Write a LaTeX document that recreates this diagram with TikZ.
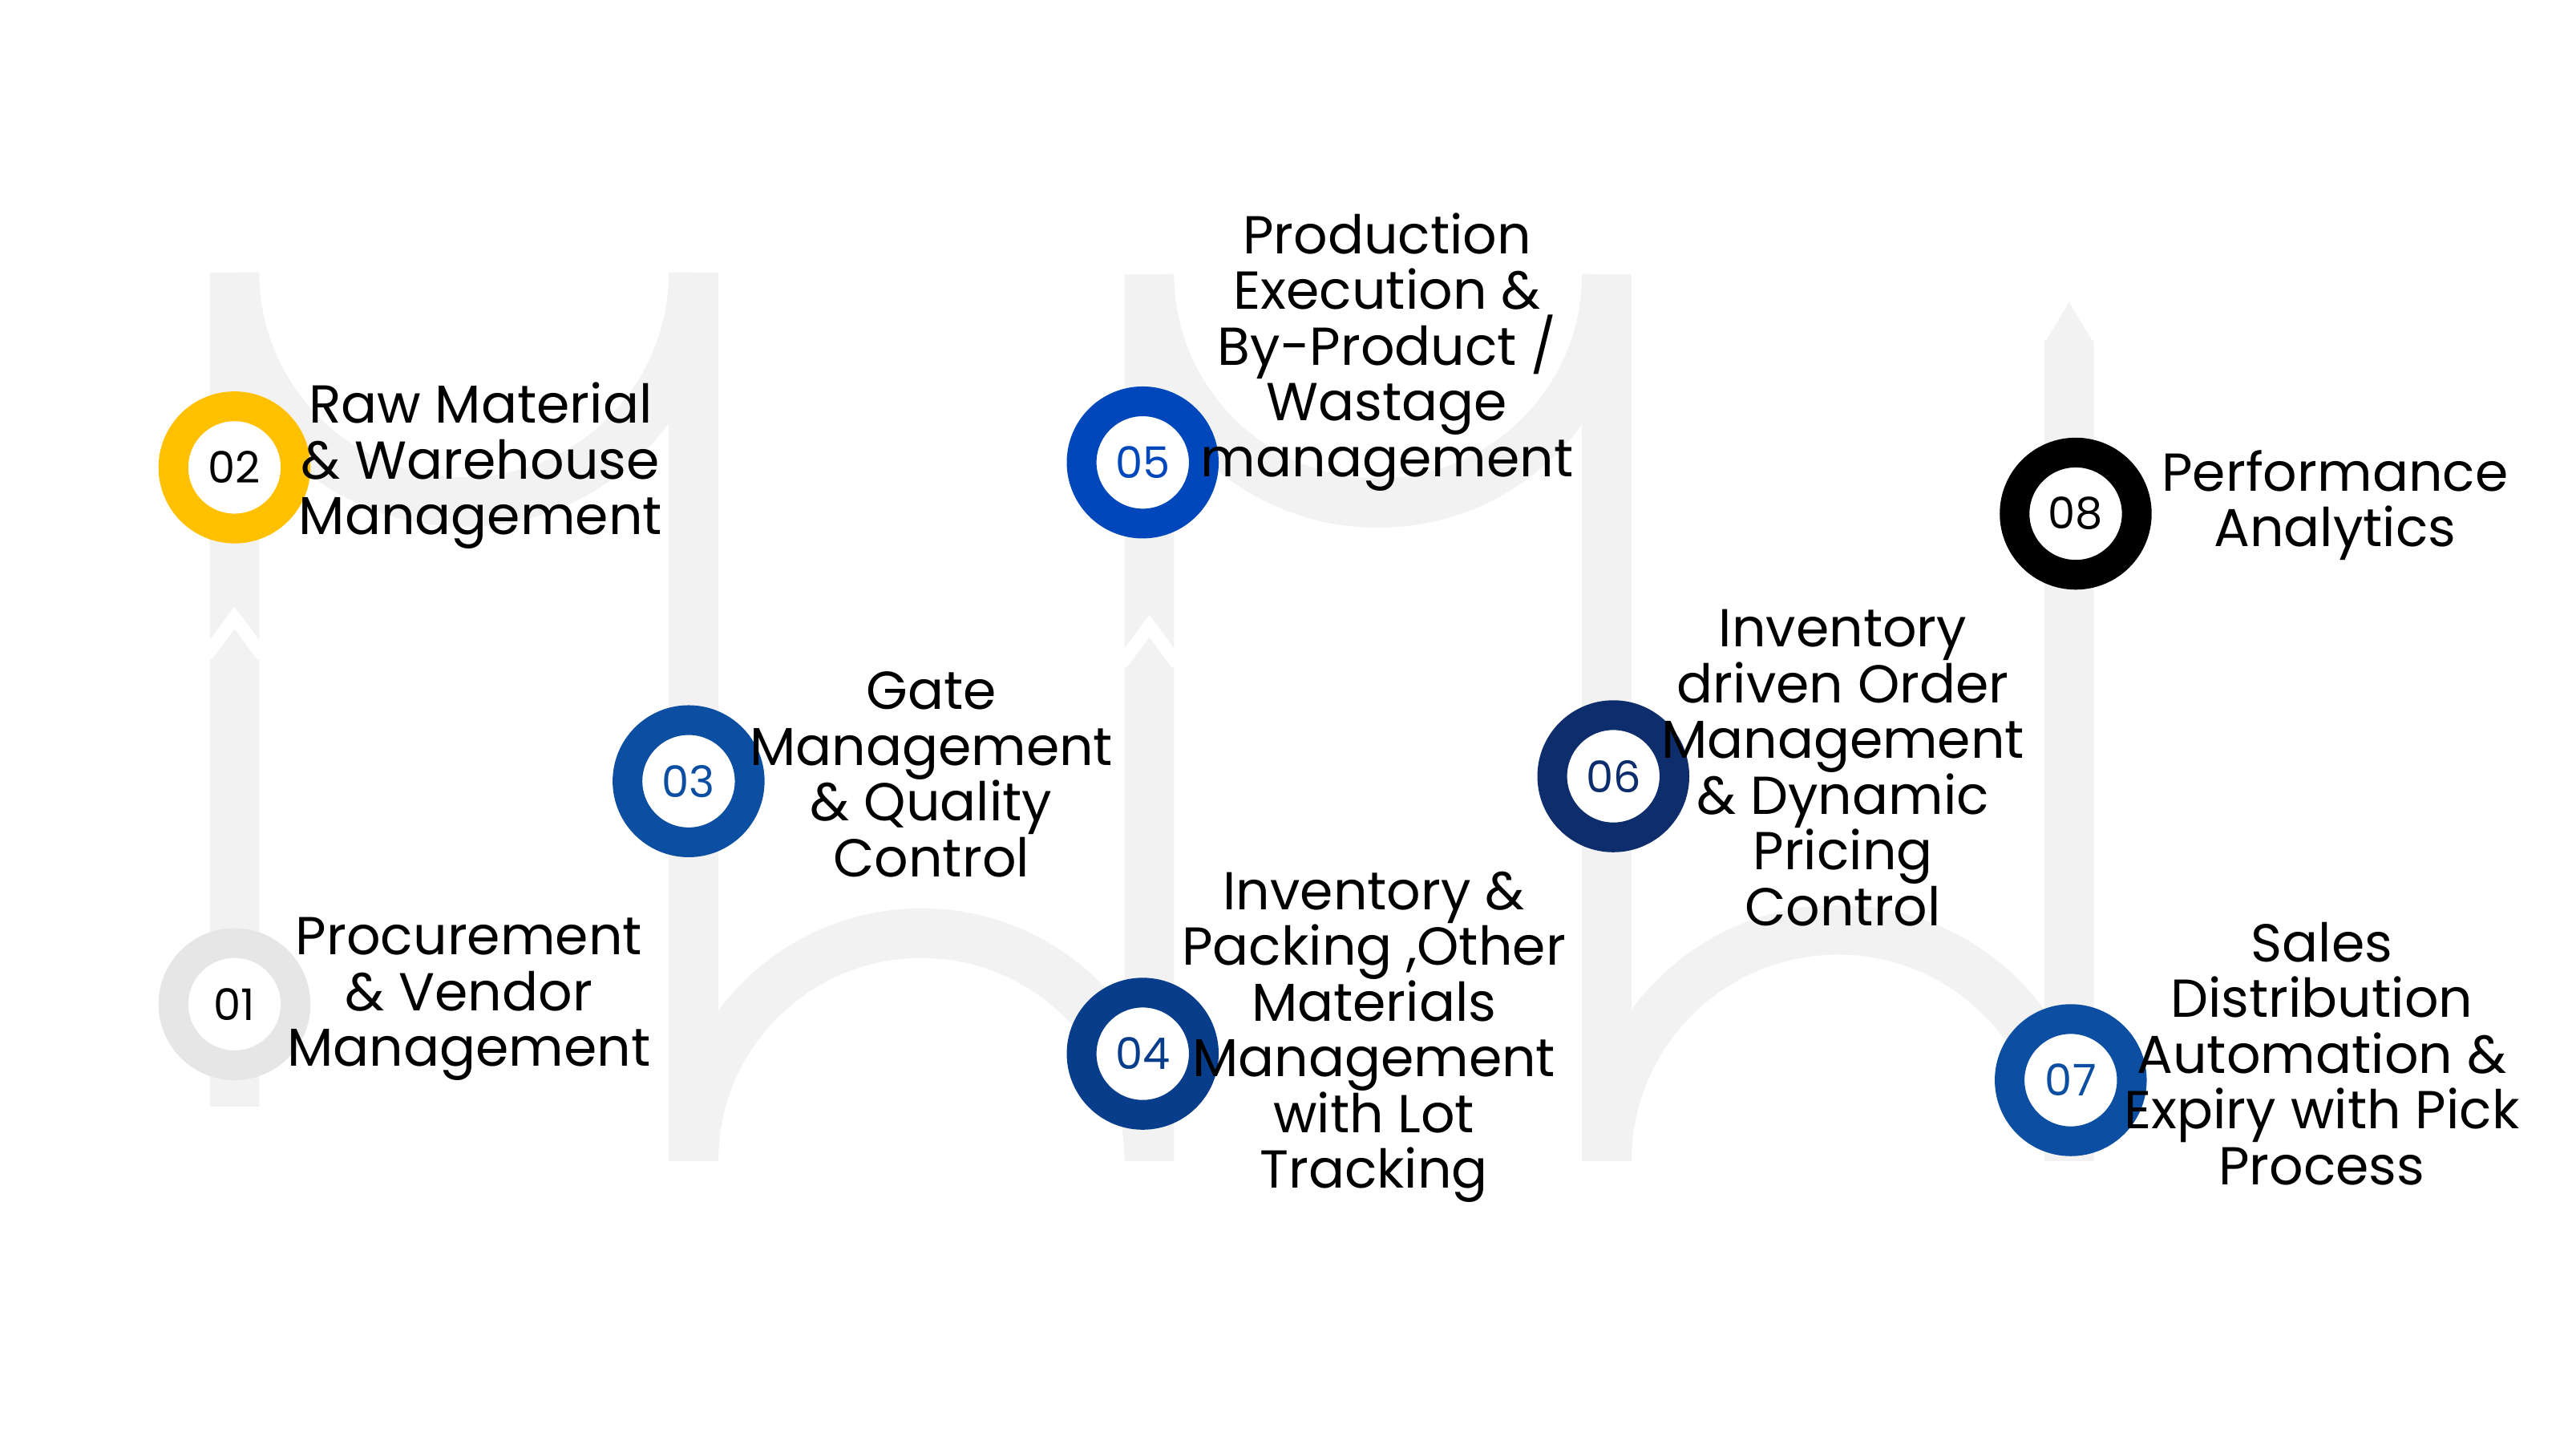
\documentclass[tikz,border=0pt]{standalone}
\usepackage{fontspec}
\setmainfont{Poppins}
\usetikzlibrary{positioning,calc}
\definecolor{bandgray}{HTML}{F2F2F2}
\definecolor{ringgray}{HTML}{E6E6E6}
\definecolor{ringyellow}{HTML}{FFC000}
\definecolor{ringblue}{HTML}{0B4EA2}
\definecolor{ringdark}{HTML}{083D8C}
\definecolor{ringbright}{HTML}{0047BB}
\definecolor{ringnavy}{HTML}{0D2D6C}
\tikzset{
  band/.style={line width=0.3cm, bandgray},
  cut/.style={line width=0.08cm, white},
  ring/.style={circle, minimum size=0.74cm, line width=0.18cm, draw=#1, fill=white, inner sep=0pt, font=\fontsize{7.5}{8}\selectfont},
  lbl/.style={align=center, font=\fontsize{9.2}{9.6}\selectfont, inner sep=0pt}
}
\begin{document}
\begin{tikzpicture}[y=-1cm]
		\useasboundingbox[fill=white] (0,0) rectangle (15.6,8.745);

		% Serpentine band
		\draw[band] (1.42,6.7) -- (1.42,1.65) arc (180:0:1.39) -- (4.20,7.03)
			arc (180:360:1.38) -- (6.96,1.66) arc (180:0:1.385) -- (9.73,7.03)
			arc (180:360:1.40) -- (12.53,2.06);
		\fill[bandgray] (12.38,2.08) -- (12.53,1.83) -- (12.68,2.08) -- cycle;

		% Chevron gaps
		\draw[cut] (1.25,3.97) -- (1.42,3.74) -- (1.59,3.97);
		\draw[cut] (6.79,4.02) -- (6.96,3.79) -- (7.13,4.02);
		\draw[cut] (2.98,0.04) -- (3.14,0.26) -- (2.98,0.48);
		\draw[cut] (8.50,0.05) -- (8.66,0.27) -- (8.50,0.49);
		\draw[cut] (5.47,8.12) -- (5.63,8.34) -- (5.47,8.56);
		\draw[cut] (11.13,8.12) -- (11.29,8.34) -- (11.13,8.56);

		% Step rings
		\node[ring=ringgray] (s1) at (1.42,6.08) {01};
		\node[ring=ringyellow] (s2) at (1.42,2.83) {02};
		\node[ring=ringblue, text=ringblue] (s3) at (4.17,4.73) {03};
		\node[ring=ringdark, text=ringdark] (s4) at (6.92,6.38) {04};
		\node[ring=ringbright, text=ringbright] (s5) at (6.92,2.80) {05};
		\node[ring=ringnavy, text=ringnavy] (s6) at (9.77,4.70) {06};
		\node[ring=ringblue, text=ringblue] (s7) at (12.54,6.54) {07};
		\node[ring=black] (s8) at (12.57,3.11) {08};

		% Labels
		\node[lbl] (t1) at (2.84,6.05) {Procurement\\\& Vendor\\Management};
		\node[lbl] (t2) at (2.91,2.82) {Raw Material\\\& Warehouse\\Management};
		\node[lbl] (t3) at (5.64,4.69) {Gate\\Management\\\& Quality\\Control};
		\node[lbl] (t4) at (8.32,6.28) {Inventory \&\\Packing ,Other\\Materials\\Management\\with Lot\\Tracking};
		\node[lbl] (t5) at (8.40,2.13) {Production\\Execution \&\\By-Product /\\Wastage\\management};
		\node[lbl] (t6) at (11.16,4.65) {Inventory\\driven Order\\Management\\\& Dynamic\\Pricing\\Control};
		\node[lbl] (t7) at (14.06,6.38) {Sales\\Distribution\\Automation \&\\Expiry with Pick\\Process};
		\node[lbl] (t8) at (14.14,3.06) {Performance\\Analytics};
	\end{tikzpicture}
\end{document}
